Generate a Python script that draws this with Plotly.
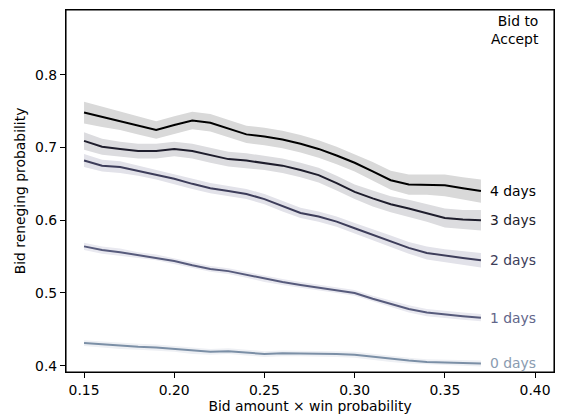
import plotly.graph_objects as go

x = [0.15, 0.16, 0.17, 0.18, 0.19, 0.20, 0.21, 0.22, 0.23, 0.24, 0.25, 0.26,
     0.27, 0.28, 0.29, 0.30, 0.31, 0.32, 0.33, 0.34, 0.35, 0.36, 0.37]

days4 = [0.748, 0.742, 0.737, 0.730, 0.724, 0.731, 0.737, 0.734, 0.726, 0.718, 0.715, 0.711,
         0.705, 0.698, 0.689, 0.679, 0.667, 0.655, 0.649, 0.649, 0.648, 0.644, 0.640]
days3 = [0.709, 0.701, 0.698, 0.695, 0.695, 0.698, 0.695, 0.689, 0.684, 0.682, 0.679, 0.675,
         0.669, 0.662, 0.651, 0.639, 0.630, 0.622, 0.616, 0.610, 0.603, 0.601, 0.600]
days2 = [0.682, 0.675, 0.673, 0.668, 0.663, 0.657, 0.650, 0.644, 0.640, 0.636, 0.629, 0.619,
         0.610, 0.605, 0.598, 0.589, 0.580, 0.571, 0.562, 0.555, 0.551, 0.548, 0.545]
days1 = [0.564, 0.559, 0.556, 0.552, 0.549, 0.544, 0.538, 0.533, 0.530, 0.525, 0.519, 0.515,
         0.511, 0.507, 0.504, 0.500, 0.492, 0.485, 0.478, 0.473, 0.470, 0.468, 0.466]
days0 = [0.431, 0.429, 0.427, 0.426, 0.425, 0.423, 0.420, 0.419, 0.420, 0.418, 0.416, 0.417,
         0.417, 0.417, 0.416, 0.415, 0.412, 0.409, 0.407, 0.405, 0.404, 0.404, 0.403]

err4 = [0.015, 0.014, 0.013, 0.012, 0.012, 0.012, 0.012, 0.012, 0.012, 0.012, 0.012, 0.012,
        0.012, 0.012, 0.012, 0.012, 0.013, 0.013, 0.014, 0.014, 0.015, 0.015, 0.016]
err3 = [0.012, 0.011, 0.010, 0.010, 0.010, 0.010, 0.010, 0.010, 0.010, 0.010, 0.010, 0.010,
        0.010, 0.010, 0.010, 0.010, 0.011, 0.011, 0.012, 0.012, 0.013, 0.013, 0.014]
err2 = [0.009, 0.008, 0.008, 0.007, 0.007, 0.007, 0.007, 0.007, 0.007, 0.007, 0.007, 0.007,
        0.007, 0.007, 0.007, 0.007, 0.008, 0.008, 0.008, 0.009, 0.009, 0.009, 0.010]
err1 = [0.005, 0.005, 0.005, 0.004, 0.004, 0.004, 0.004, 0.004, 0.004, 0.004, 0.004, 0.004,
        0.004, 0.004, 0.004, 0.004, 0.004, 0.004, 0.005, 0.005, 0.005, 0.005, 0.005]
err0 = [0.004, 0.004, 0.004, 0.004, 0.004, 0.004, 0.004, 0.004, 0.004, 0.004, 0.004, 0.004,
        0.004, 0.004, 0.004, 0.004, 0.004, 0.004, 0.004, 0.004, 0.004, 0.004, 0.004]

labels = ["0 days", "1 days", "2 days", "3 days", "4 days"]
series = [days0, days1, days2, days3, days4]
errors = [err0, err1, err2, err3, err4]
line_colors = ["#7b8fa6", "#575b7c", "#3d3d5a", "#1e1d2c", "#000000"]
band_colors = ["#eef0f4", "#e9e9f0", "#e2e2e9", "#dcdcdf", "#d9d9d9"]
text_colors = ["#8a9bb0", "#62668a", "#3d3d5a", "#1e1d2c", "#000000"]

FS = 13.9
font = "DejaVu Sans"

fig = go.Figure()
for ys, es, bc in zip(series, errors, band_colors):
    upper = [y + e for y, e in zip(ys, es)]
    lower = [y - e for y, e in zip(ys, es)]
    fig.add_trace(go.Scatter(
        x=x + x[::-1], y=upper + lower[::-1], fill="toself", fillcolor=bc,
        line=dict(width=0), mode="lines", hoverinfo="skip", showlegend=False))
for ys, lc in zip(series, line_colors):
    fig.add_trace(go.Scatter(x=x, y=ys, mode="lines", line=dict(color=lc, width=2.0),
                             showlegend=False))

for ys, lab, tc in zip(series, labels, text_colors):
    fig.add_annotation(x=x[-1], y=ys[-1], text=lab, showarrow=False, xanchor="left",
                       yanchor="middle", xshift=7, font=dict(family=font, size=FS, color=tc))

fig.add_annotation(x=0.9735, y=1, xref="paper", yref="paper", text="Bid to<br>Accept",
                   showarrow=False, xanchor="right", yanchor="top", align="right", yshift=-1,
                   font=dict(family=font, size=FS, color="#000000"))

axis_common = dict(showline=True, linecolor="#000000", linewidth=1.1, mirror=True,
                   ticks="outside", ticklen=5, tickwidth=1.1, tickcolor="#000000",
                   showgrid=False, zeroline=False,
                   tickfont=dict(family=font, size=FS, color="#000000"))

fig.update_xaxes(range=[0.14, 0.4105], tickvals=[0.15, 0.20, 0.25, 0.30, 0.35, 0.40],
                 ticktext=["0.15", "0.20", "0.25", "0.30", "0.35", "0.40"],
                 title=dict(text="Bid amount × win probability", standoff=4,
                            font=dict(family=font, size=FS, color="#000000")),
                 **axis_common)
fig.update_yaxes(range=[0.3913, 0.889], tickvals=[0.4, 0.5, 0.6, 0.7, 0.8],
                 ticktext=["0.4", "0.5", "0.6", "0.7", "0.8"],
                 title=dict(text="Bid reneging probability", standoff=6,
                            font=dict(family=font, size=FS, color="#000000")),
                 **axis_common)

fig.add_shape(type="rect", xref="paper", yref="paper", x0=0, y0=0, x1=1, y1=1,
              line=dict(color="#000000", width=1.1), fillcolor="rgba(0,0,0,0)", layer="above")

fig.update_layout(width=561, height=420, margin=dict(l=66, r=7, t=10, b=48, autoexpand=False),
                  plot_bgcolor="#ffffff", paper_bgcolor="#ffffff")

fig.write_html("out.html", config={"displayModeBar": False},
               post_script="document.body.style.margin='0';document.body.style.padding='0';")
